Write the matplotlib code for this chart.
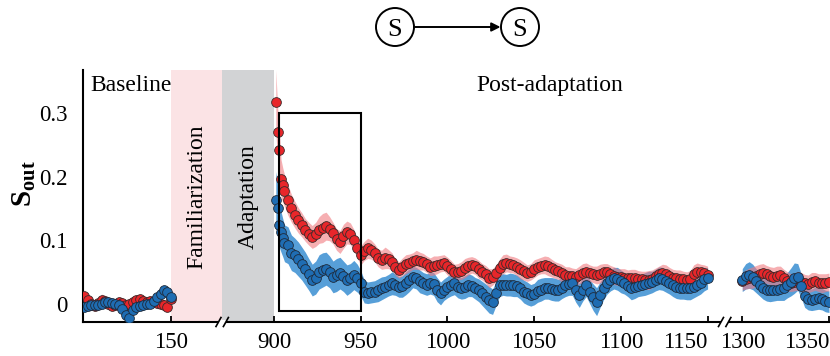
import numpy as np
import matplotlib
matplotlib.use("Agg")
import matplotlib.pyplot as plt
import matplotlib.transforms as mtransforms
from matplotlib.patches import Circle, FancyArrowPatch, Rectangle
from matplotlib.lines import Line2D

plt.rcParams["font.family"] = ["Liberation Serif", "DejaVu Serif"]
plt.rcParams["mathtext.fontset"] = "custom"
plt.rcParams["mathtext.rm"] = "Liberation Serif"
plt.rcParams["mathtext.bf"] = "Liberation Serif:bold"

# ---------------- data ----------------
base_t = np.arange(100, 151, 2)
base_red = [0.012, 0.006, 0.000, -0.004, 0.001, 0.006, 0.004, -0.001, -0.004, -0.002,
            0.002, 0.001, -0.003, -0.001, 0.003, 0.006, 0.007, 0.004, 0.002, 0.004,
            0.003, 0.001, 0.000, -0.003, -0.005, 0.008]
base_blue = [-0.006, -0.004, -0.002, -0.003, -0.002, 0.000, 0.002, 0.003, 0.001, -0.001,
             -0.002, -0.008, -0.018, -0.022, -0.010, -0.006, -0.004, -0.002, -0.001, 0.000,
             0.004, 0.010, 0.015, 0.021, 0.018, 0.010]
base_red_err = [0.010, 0.009, 0.009, 0.008, 0.008, 0.009, 0.009, 0.008, 0.008, 0.009,
                0.009, 0.008, 0.008, 0.009, 0.009, 0.008, 0.008, 0.009, 0.009, 0.008,
                0.008, 0.009, 0.009, 0.008, 0.008, 0.009]
base_blue_err = [0.008, 0.008, 0.007, 0.007, 0.008, 0.008, 0.007, 0.007, 0.008, 0.008,
                 0.007, 0.008, 0.009, 0.009, 0.008, 0.007, 0.007, 0.008, 0.008, 0.007,
                 0.007, 0.008, 0.008, 0.008, 0.008, 0.008]

post_t = np.concatenate([np.arange(901, 907), np.arange(908, 1151, 2)])
post_red = [0.318, 0.271, 0.242, 0.197, 0.187, 0.178,
            0.163, 0.150, 0.140, 0.131, 0.124, 0.116, 0.110, 0.105, 0.109, 0.116,
            0.119, 0.122, 0.118, 0.111, 0.101, 0.097, 0.106, 0.112, 0.110, 0.100,
            0.087, 0.076, 0.083, 0.087, 0.085, 0.080, 0.072, 0.069, 0.072, 0.070,
            0.066, 0.057, 0.053, 0.058, 0.062, 0.064, 0.067, 0.069, 0.067, 0.066,
            0.062, 0.058, 0.060, 0.061, 0.063, 0.064, 0.059, 0.055, 0.050, 0.050,
            0.052, 0.056, 0.059, 0.061, 0.059, 0.054, 0.050, 0.046, 0.040, 0.042,
            0.048, 0.056, 0.062, 0.064, 0.062, 0.061, 0.058, 0.054, 0.051, 0.048,
            0.050, 0.055, 0.058, 0.060, 0.061, 0.059, 0.056, 0.053, 0.051, 0.048,
            0.045, 0.044, 0.043, 0.042, 0.045, 0.048, 0.050, 0.048, 0.046, 0.045,
            0.047, 0.049, 0.050, 0.047, 0.044, 0.042, 0.042, 0.041, 0.040, 0.041,
            0.040, 0.039, 0.038, 0.037, 0.037, 0.039, 0.043, 0.046, 0.048, 0.046,
            0.043, 0.041, 0.040, 0.039, 0.038, 0.037, 0.038, 0.046, 0.050, 0.049,
            0.048, 0.045]
post_blue = [0.163, 0.150, 0.124, 0.113, 0.104, 0.095,
             0.092, 0.080, 0.076, 0.070, 0.063, 0.055, 0.046, 0.037, 0.041, 0.050,
             0.053, 0.055, 0.050, 0.042, 0.045, 0.048, 0.043, 0.037, 0.040, 0.045,
             0.040, 0.032, 0.019, 0.017, 0.018, 0.019, 0.021, 0.024, 0.026, 0.029,
             0.032, 0.030, 0.026, 0.027, 0.032, 0.037, 0.042, 0.040, 0.035, 0.032,
             0.030, 0.032, 0.031, 0.022, 0.016, 0.022, 0.026, 0.030, 0.032, 0.026,
             0.024, 0.026, 0.029, 0.028, 0.024, 0.021, 0.016, 0.011, 0.006, 0.003,
             0.016, 0.029, 0.030, 0.029, 0.030, 0.029, 0.028, 0.024, 0.019, 0.016,
             0.013, 0.015, 0.020, 0.022, 0.024, 0.024, 0.023, 0.022, 0.021, 0.025,
             0.029, 0.031, 0.032, 0.022, 0.013, 0.022, 0.029, 0.019, 0.010, 0.003,
             0.014, 0.024, 0.033, 0.037, 0.040, 0.039, 0.035, 0.032, 0.028, 0.024,
             0.026, 0.028, 0.029, 0.031, 0.033, 0.034, 0.037, 0.040, 0.039, 0.035,
             0.032, 0.029, 0.026, 0.024, 0.024, 0.024, 0.024, 0.026, 0.029, 0.033,
             0.038, 0.040]
post_red_err = [0.050, 0.040, 0.034, 0.030, 0.027, 0.025,
                0.024, 0.022, 0.021, 0.020, 0.019, 0.018, 0.018, 0.018, 0.019, 0.021,
                0.023, 0.022, 0.019, 0.017, 0.017, 0.018, 0.019, 0.018, 0.017, 0.017,
                0.016, 0.015, 0.015, 0.016, 0.015, 0.014, 0.014, 0.015, 0.017, 0.015,
                0.014, 0.013, 0.013, 0.014, 0.015, 0.014, 0.013, 0.015, 0.014, 0.013,
                0.013, 0.014, 0.015, 0.014, 0.013, 0.013, 0.014, 0.013, 0.012, 0.013,
                0.014, 0.015, 0.014, 0.013, 0.013, 0.014, 0.013, 0.014, 0.015, 0.013,
                0.013, 0.014, 0.015, 0.014, 0.013, 0.013, 0.014, 0.015, 0.014, 0.013,
                0.013, 0.014, 0.013, 0.013, 0.014, 0.015, 0.014, 0.013, 0.013, 0.014,
                0.013, 0.014, 0.013, 0.013, 0.014, 0.015, 0.014, 0.013, 0.013, 0.014,
                0.015, 0.014, 0.013, 0.013, 0.014, 0.013, 0.013, 0.014, 0.013, 0.013,
                0.014, 0.013, 0.013, 0.014, 0.015, 0.014, 0.013, 0.013, 0.014, 0.015,
                0.014, 0.013, 0.013, 0.014, 0.013, 0.013, 0.014, 0.015, 0.014, 0.013,
                0.013, 0.014]
post_blue_err = [0.045, 0.040, 0.035, 0.032, 0.030, 0.029,
                 0.029, 0.028, 0.027, 0.027, 0.026, 0.026, 0.025, 0.025, 0.026, 0.027,
                 0.027, 0.026, 0.025, 0.025, 0.026, 0.025, 0.024, 0.024, 0.023, 0.023,
                 0.022, 0.020, 0.018, 0.017, 0.017, 0.017, 0.018, 0.018, 0.017, 0.017,
                 0.018, 0.017, 0.016, 0.017, 0.018, 0.018, 0.017, 0.017, 0.018, 0.017,
                 0.017, 0.017, 0.018, 0.019, 0.018, 0.017, 0.017, 0.018, 0.018, 0.017,
                 0.017, 0.018, 0.018, 0.017, 0.017, 0.018, 0.019, 0.020, 0.021, 0.020,
                 0.019, 0.018, 0.017, 0.017, 0.018, 0.018, 0.017, 0.017, 0.018, 0.018,
                 0.017, 0.017, 0.018, 0.018, 0.017, 0.017, 0.018, 0.018, 0.017, 0.017,
                 0.018, 0.018, 0.019, 0.020, 0.019, 0.018, 0.018, 0.019, 0.021, 0.022,
                 0.020, 0.018, 0.018, 0.017, 0.017, 0.018, 0.018, 0.017, 0.017, 0.018,
                 0.018, 0.017, 0.017, 0.018, 0.018, 0.017, 0.017, 0.018, 0.018, 0.017,
                 0.017, 0.018, 0.018, 0.017, 0.017, 0.018, 0.018, 0.017, 0.017, 0.018,
                 0.018, 0.017]

late_t = np.arange(1300, 1351, 2)
late_red = [0.035, 0.038, 0.040, 0.041, 0.044, 0.047, 0.048, 0.046, 0.044, 0.042,
            0.044, 0.045, 0.040, 0.035, 0.033, 0.034, 0.036, 0.034, 0.032, 0.031,
            0.034, 0.035, 0.033, 0.032, 0.033, 0.034]
late_blue = [0.037, 0.043, 0.045, 0.042, 0.036, 0.030, 0.024, 0.022, 0.021, 0.021,
             0.022, 0.023, 0.024, 0.029, 0.034, 0.040, 0.042, 0.028, 0.012, 0.007,
             0.006, 0.008, 0.009, 0.007, 0.004, 0.003]
late_red_err = [0.014, 0.015, 0.016, 0.017, 0.016, 0.015, 0.015, 0.014, 0.014, 0.015,
                0.015, 0.014, 0.014, 0.015, 0.014, 0.014, 0.015, 0.015, 0.014, 0.014,
                0.015, 0.014, 0.014, 0.015, 0.014, 0.014]
late_blue_err = [0.018, 0.020, 0.021, 0.020, 0.019, 0.018, 0.017, 0.018, 0.018, 0.017,
                 0.017, 0.018, 0.019, 0.020, 0.022, 0.024, 0.021, 0.019, 0.018, 0.017,
                 0.017, 0.018, 0.018, 0.017, 0.017, 0.017]

xtick_vals = [150, 900, 950, 1000, 1050, 1100, 1150, 1300, 1350]
xtick_labels = ["150", "900", "950", "1000", "1050", "1100", "1150", "1300", "1350"]
ytick_vals = [0, 0.1, 0.2, 0.3]
ytick_labels = ["0", "0.1", "0.2", "0.3"]

phase_fam = (150, 522)
phase_adapt = (522, 900)
box_t = (903, 950)
box_y = (-0.012, 0.300)
break_t = [522, 1264]

RED = "#e8262a"
BLUE = "#1f6db3"
RED_BAND = "#f07a80"
BLUE_BAND = "#3a8ed2"

# ---------------- broken x axis via piecewise scale ----------------
T_KNOTS = [-1000.0, 150.0, 900.0, 1159.0, 1290.0, 3000.0]
U_KNOTS = [-1000.0, 150.0, 209.5, 468.5, 469.5, 2179.5]


def fwd(t):
    return np.interp(t, T_KNOTS, U_KNOTS)


def inv(u):
    return np.interp(u, U_KNOTS, T_KNOTS)


W, H = 830, 356
fig = plt.figure(figsize=(W / 100, H / 100), dpi=100)
ax = fig.add_axes([83 / W, 34 / H, 747 / W, 252 / H])
ax.set_xscale("function", functions=(fwd, inv))
ax.set_xlim(99.3, 1350.6)
ax.set_ylim(-0.029, 0.368)

ax.axvspan(*phase_fam, color="#fbe3e5", lw=0, zorder=0)
ax.axvspan(*phase_adapt, color="#d2d3d5", lw=0, zorder=0)

segments = [
    (base_t, base_red, base_blue, base_red_err, base_blue_err),
    (post_t, post_red, post_blue, post_red_err, post_blue_err),
    (late_t, late_red, late_blue, late_red_err, late_blue_err),
]
for t, r, b, re, be in segments:
    r, b, re, be = map(np.asarray, (r, b, re, be))
    ax.fill_between(t, b - be, b + be, color=BLUE_BAND, alpha=0.85, lw=0, zorder=1)
    ax.fill_between(t, r - re, r + re, color=RED_BAND, alpha=0.6, lw=0, zorder=2)
for t, r, b, re, be in segments:
    ax.plot(t, r, ls="none", marker="o", ms=7, mfc=RED, mec="#3a2a2a",
            mew=0.6, zorder=3)
for t, r, b, re, be in segments:
    ax.plot(t, b, ls="none", marker="o", ms=7, mfc=BLUE, mec="#1e2a3a",
            mew=0.6, zorder=4)

ax.add_patch(Rectangle((box_t[0], box_y[0]), box_t[1] - box_t[0],
                       box_y[1] - box_y[0], fill=False, ec="black", lw=1.5,
                       zorder=5))

ax.set_xticks(xtick_vals)
ax.set_xticklabels(xtick_labels)
ax.set_yticks(ytick_vals)
ax.set_yticklabels(ytick_labels)
ax.tick_params(axis="x", direction="in", length=4.5, width=1.3, labelsize=16.5,
               pad=7)
ax.tick_params(axis="y", length=0, labelsize=16.5, pad=11)
xlabs = ax.get_xticklabels()
xlabs[-1].set_ha("right")
xlabs[6].set_ha("right")
for s in ("top", "right"):
    ax.spines[s].set_visible(False)
for s in ("left", "bottom"):
    ax.spines[s].set_linewidth(1.5)

ax.text(103.3, 0.335, "Baseline", fontsize=17, ha="left", va="baseline")
ax.text(1059, 0.335, "Post-adaptation", fontsize=17, ha="center",
        va="baseline")
fam_c = inv((fwd(phase_fam[0]) + fwd(phase_fam[1])) / 2)
ad_c = inv((fwd(phase_adapt[0]) + fwd(phase_adapt[1])) / 2)
ax.text(fam_c, 0.169, "Familiarization", rotation=90, fontsize=17,
        ha="center", va="center")
ax.text(ad_c, 0.169, "Adaptation", rotation=90, fontsize=17,
        ha="center", va="center")

fig.text(24 / W, 1 - 183.5 / H, r"$\mathbf{S}_{\mathbf{out}}$", rotation=90,
         fontsize=21, ha="center", va="center")

# axis break marks (display pixel coordinates)
ident = mtransforms.IdentityTransform()
fig.canvas.draw()
y0 = ax.transAxes.transform((0, 0))[1]
for bt in break_t:
    xc = ax.transData.transform((bt, 0))[0]
    fig.add_artist(Rectangle((xc - 3.6, y0 - 1.8), 7.4, 3.6, fc="white",
                             ec="none", transform=ident, zorder=10))
    for dx in (-3.6, 3.8):
        fig.add_artist(Line2D([xc + dx - 2.5, xc + dx + 2.5],
                              [y0 - 4.5, y0 + 4.5], color="black", lw=1.2,
                              transform=ident, zorder=11))

# top diagram S -> S
cy = H - 27
for cx in (395, 520):
    fig.add_artist(Circle((cx, cy), 19, fill=False, ec="black", lw=1.4,
                          transform=ident))
    fig.text(cx / W, cy / H, "S", fontsize=19, ha="center",
             va="center_baseline")
fig.add_artist(FancyArrowPatch((414.5, cy), (500.5, cy), arrowstyle="-|>",
                               mutation_scale=13, lw=1.4, color="black",
                               shrinkA=0, shrinkB=0, transform=ident))

fig.savefig("out.png", dpi=100)
